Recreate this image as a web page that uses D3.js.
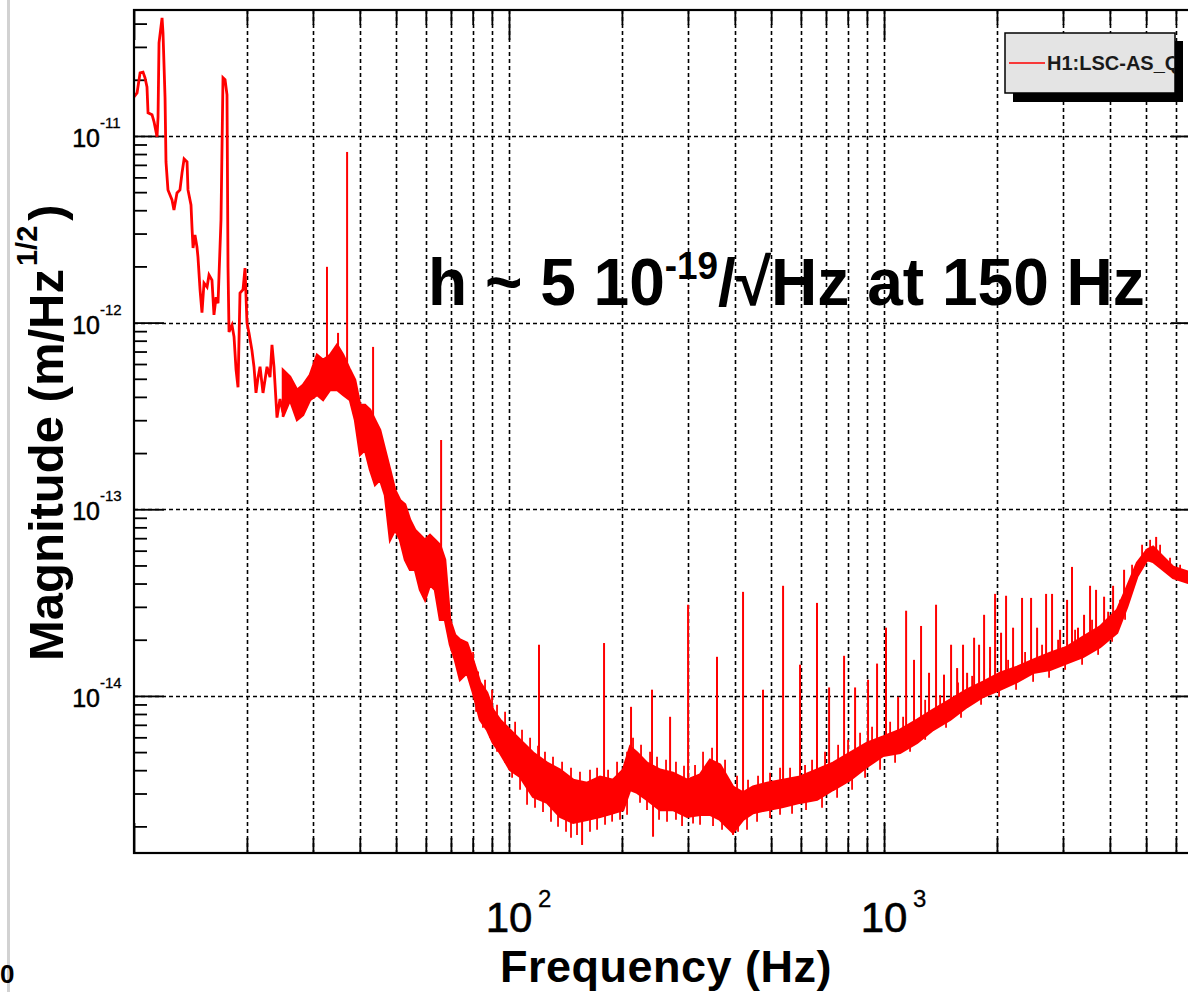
<!DOCTYPE html>
<html>
<head>
<meta charset="utf-8">
<script src="https://cdn.jsdelivr.net/npm/d3@7"></script>
<style>
  html, body { margin: 0; padding: 0; background: #fff; overflow: hidden; }
</style>
</head>
<body>
<svg id="chart" width="1188" height="992"></svg>
<script>
// ---- Low-frequency part of the spectrum, drawn as a single trace (Hz, m/sqrt(Hz)) ----
const lineFreq = [10.0,10.19,10.38,10.57,10.70,10.83,10.90,11.17,11.31,11.52,11.59,11.66,11.88,11.95,12.10,12.17,12.32,12.63,12.78,13.02,13.26,13.43,13.60,13.85,13.93,14.19,14.28,14.37,14.54,14.72,14.81,15.00,15.18,15.37,15.66,15.85,16.14,16.34,16.55,16.75,17.06,17.27,17.49,17.70,17.81,17.92,18.25,18.48,18.71,18.94,19.17,19.53,19.77,20.01,20.26,20.63,20.89,21.15,21.41,21.68,22.08,22.63,23.05,23.33,23.62,24.06,24.51,24.96];
const lineMag = [1.62e-11,1.70e-11,2.18e-11,2.20e-11,2.05e-11,1.83e-11,1.33e-11,1.30e-11,1.19e-11,9.9e-12,1.26e-11,3.15e-11,4.29e-11,3.56e-11,1.60e-11,7.26e-12,5.14e-12,4.54e-12,4.01e-12,4.95e-12,5.14e-12,6.34e-12,7.53e-12,7.26e-12,5.14e-12,4.27e-12,3.21e-12,2.51e-12,2.95e-12,2.54e-12,2.25e-12,1.50e-12,1.13e-12,1.63e-12,1.55e-12,1.80e-12,1.69e-12,1.10e-12,1.37e-12,1.27e-12,3.55e-12,2.05e-11,2.00e-11,1.66e-11,1.99e-12,8.9e-13,9.7e-13,8.4e-13,5.6e-13,4.5e-13,1.44e-12,1.50e-12,1.96e-12,9.96e-13,8.8e-13,7.1e-13,5.8e-13,4.2e-13,5.06e-13,5.8e-13,4.2e-13,5.8e-13,5.1e-13,7.6e-13,5.8e-13,3.1e-13,3.9e-13,3.3e-13];

// ---- Noise floor above 25 Hz: upper and lower envelope of the dense spectrum ----
const bandFreq = [24.96,26.06,27.21,28.23,29.46,30.76,31.92,33.33,34.79,36.10,37.67,38.85,40.07,41.30,42.60,43.93,45.29,46.70,48.16,49.66,51.21,52.81,54.45,56.15,57.91,59.70,61.56,63.48,65.46,67.50,69.61,71.78,74.01,77.27,80.17,83.70,87.37,90.65,94.62,100.6,107.0,115.9,126.3,136.8,148.2,161.4,174.9,189.4,201.4,210.3,219.5,233.3,252.8,273.7,298.4,323.1,343.6,365.3,381.3,395.6,420.7,447.4,487.5,537.9,597.0,662.6,731.1,811.6,900.6,993.8,1103,1225,1351,1500,1665,1837,2039,2263,2497,2772,3076,3394,3767,4181,4446,4727,5028,5216,5546,5898,6468,7000];
const bandHigh = [5.58e-13,5.12e-13,4.36e-13,4.64e-13,5.25e-13,6.71e-13,6.31e-13,6.71e-13,7.60e-13,6.71e-13,5.58e-13,4.93e-13,3.62e-13,3.62e-13,3.41e-13,3.01e-13,2.66e-13,2.08e-13,1.63e-13,1.27e-13,1.12e-13,1.06e-13,8.77e-14,7.76e-14,7.29e-14,6.86e-14,7.29e-14,6.86e-14,6.45e-14,5.36e-14,2.56e-14,2.12e-14,2.00e-14,1.92e-14,1.56e-14,1.18e-14,1.04e-14,8.43e-15,7.45e-15,6.58e-15,5.82e-15,4.96e-15,4.38e-15,4.02e-15,3.55e-15,3.42e-15,3.69e-15,3.55e-15,4.02e-15,5.34e-15,4.96e-15,4.38e-15,4.02e-15,3.87e-15,3.55e-15,3.78e-15,4.55e-15,4.28e-15,3.69e-15,3.26e-15,3.03e-15,3.26e-15,3.42e-15,3.55e-15,3.69e-15,4.02e-15,4.38e-15,4.96e-15,5.61e-15,6.04e-15,6.58e-15,7.45e-15,8.43e-15,9.53e-15,1.08e-14,1.19e-14,1.33e-14,1.43e-14,1.56e-14,1.70e-14,1.83e-14,2.07e-14,2.35e-14,2.89e-14,3.84e-14,5.16e-14,6.06e-14,6.29e-14,5.56e-14,4.91e-14,4.62e-14,4.5e-14];
const bandLow = [3.13e-13,3.85e-13,3.01e-13,3.20e-13,3.85e-13,4.10e-13,3.85e-13,4.36e-13,4.36e-13,4.10e-13,3.85e-13,3.01e-13,1.96e-13,2.08e-13,1.63e-13,1.35e-13,1.44e-13,1.19e-13,6.86e-14,7.76e-14,6.86e-14,5.36e-14,4.74e-14,4.74e-14,3.70e-14,3.27e-14,3.94e-14,3.70e-14,2.56e-14,2.56e-14,1.88e-14,1.56e-14,1.22e-14,1.33e-14,1.04e-14,7.45e-15,6.58e-15,5.61e-15,4.96e-15,4.02e-15,3.69e-15,2.88e-15,2.68e-15,2.25e-15,2.09e-15,2.17e-15,2.25e-15,2.36e-15,2.45e-15,3.14e-15,3.03e-15,2.78e-15,2.45e-15,2.45e-15,2.25e-15,2.31e-15,2.31e-15,2.17e-15,1.99e-15,1.85e-15,2.17e-15,2.36e-15,2.45e-15,2.55e-15,2.68e-15,2.78e-15,3.14e-15,3.55e-15,4.17e-15,4.78e-15,4.96e-15,5.61e-15,6.58e-15,7.45e-15,8.74e-15,9.89e-15,1.08e-14,1.19e-14,1.33e-14,1.38e-14,1.50e-14,1.62e-14,1.83e-14,2.18e-14,3.00e-14,4.35e-14,5.36e-14,5.23e-14,4.74e-14,4.29e-14,4.04e-14,3.9e-14];

// ---- Short noise excursions sticking out of the floor (tips) ----
const hairUpFreq = [80.2,82.7,86.3,90.1,92.9,97.6,103.8,108.3,113.8,119.5,124.7,131.0,138.5,146.3,154.6,164.4,171.7,183.7,194.1,206.4,214.1,224.9,237.7,248.1,262.2,278.7,292.8,313.3,329.1,347.8,376.7,405.5,433.8,461.3,496.6,528.0,561.5,615.6,642.7,696.0,754.2,801.7,863.0,928.9,1038,1124,1287,1411,1575,1717,1917,2142,2377,2638,2911,3231,3586,3957,4259,4584,4875,5122,5445,5788,6157];
const hairUpMag = [1.72e-14,1.35e-14,1.22e-14,1.08e-14,8.96e-15,8.22e-15,7.27e-15,6.58e-15,5.97e-15,5.40e-15,5.02e-15,4.72e-15,4.44e-15,4.12e-15,3.92e-15,4.02e-15,4.12e-15,4.02e-15,4.44e-15,5.02e-15,5.97e-15,5.47e-15,5.02e-15,4.72e-15,4.55e-15,4.44e-15,4.22e-15,4.27e-15,5.02e-15,5.27e-15,4.55e-15,3.73e-15,3.55e-15,3.73e-15,3.87e-15,4.12e-15,4.12e-15,4.27e-15,4.55e-15,5.02e-15,5.47e-15,5.82e-15,6.34e-15,6.83e-15,7.27e-15,7.73e-15,9.53e-15,1.01e-14,1.18e-14,1.28e-14,1.41e-14,1.56e-14,1.72e-14,1.88e-14,2.00e-14,2.26e-14,2.56e-14,2.82e-14,3.27e-14,5.04e-14,6.45e-14,6.86e-14,6.45e-14,5.49e-14,5.04e-14];
const hairDownFreq = [81.7,85.2,89.0,92.9,97.6,101.9,107.0,111.7,117.3,123.2,129.4,135.1,141.9,146.3,151.8,164.4,171.7,180.3,188.3,197.7,206.4,223.5,233.3,251.2,263.8,278.7,289.3,309.5,323.1,349.9,369.8,408.0,431.1,458.5,496.6,528.0,568.4,619.4,683.3,749.5,821.7,889.9,975.7,1070,1173,1287,1463,1604,1814,2026,2249,2497,2754,3039,3373,3722,4055,4392];
const hairDownMag = [8.22e-15,6.75e-15,5.97e-15,5.02e-15,4.38e-15,3.64e-15,3.14e-15,2.61e-15,2.52e-15,2.39e-15,2.12e-15,1.99e-15,1.87e-15,1.74e-15,1.80e-15,1.87e-15,1.92e-15,2.04e-15,2.12e-15,2.17e-15,2.31e-15,2.68e-15,2.45e-15,2.17e-15,2.12e-15,2.17e-15,2.01e-15,2.07e-15,2.04e-15,2.01e-15,1.92e-15,1.87e-15,1.92e-15,2.12e-15,2.22e-15,2.31e-15,2.34e-15,2.45e-15,2.52e-15,2.85e-15,3.14e-15,3.64e-15,4.02e-15,4.38e-15,5.02e-15,5.82e-15,6.75e-15,7.63e-15,8.96e-15,9.89e-15,1.08e-14,1.19e-14,1.25e-14,1.38e-14,1.47e-14,1.66e-14,1.95e-14,2.56e-14];

// ---- Narrow lines (peaks) standing above the noise floor ----
const spikeFreq = [32.7,35.0,37.0,43.4,65.9,120.2,179.2,211.5,240.6,268.8,300.2,358.6,420.7,475.6,537.9,597.0,662.6,713.5,782.3,837.0,906.3,957.9,1012,1090,1145,1202,1255,1318,1376,1445,1509,1566,1624,1665,1738,1792,1848,1917,1977,2051,2115,2208,2333,2466,2559,2704,2805,2947,3076,3171,3290,3414,3542,3675,3861,4080,4365,5315];
const spikeMag = [1.99e-12,8.81e-13,8.21e-12,7.41e-13,2.35e-13,1.88e-14,1.92e-14,8.74e-15,1.08e-14,7.73e-15,3.08e-14,1.62e-14,3.61e-14,1.08e-14,3.89e-14,1.47e-14,3.15e-14,1.11e-14,1.64e-14,1.11e-14,1.22e-14,1.49e-14,2.32e-14,9.89e-15,2.86e-14,1.56e-14,2.37e-14,1.33e-14,3.08e-14,1.30e-14,1.88e-14,1.41e-14,1.88e-14,1.33e-14,2.05e-14,1.88e-14,2.72e-14,1.83e-14,3.52e-14,2.18e-14,3.44e-14,2.32e-14,3.35e-14,3.35e-14,2.32e-14,3.52e-14,3.52e-14,2.26e-14,3.27e-14,4.91e-14,2.32e-14,2.72e-14,3.89e-14,3.70e-14,3.40e-14,3.89e-14,4.74e-14,7.11e-14];

// ---- Deeper downward excursions below the noise floor ----
const dipFreq = [156.6, 242.1, 395.6];
const dipMag = [1.59e-15, 1.76e-15, 1.80e-15];

// ---- Axis labelling ----
const yLabelValues = [1e-11, 1e-12, 1e-13, 1e-14];
const yLabelExponents = ["-11", "-12", "-13", "-14"];
const xLabelValues = [100, 1000];
const xLabelExponents = ["2", "3"];
const xTitle = "Frequency (Hz)";
const yTitleMain = "Magnitude (m/Hz";
const yTitleSup = "1/2";
const legendLabel = "H1:LSC-AS_Q";
const noteMain = "h ~ 5 10";
const noteSup = "-19";
const noteTail = "/\u221AHz at 150 Hz";

// ---------------------------------------------------------------
const FONT = "'Liberation Sans', Arial, Helvetica, sans-serif";
const RED = "#ff0000";
const W = 1188, H = 992;
const svg = d3.select("#chart");

const x = d3.scaleLog().domain([10, 7000]).range([134, 1201]);
const y = d3.scaleLog().domain([1.44e-15, 4.73e-11]).range([853, 10]);
const [xL, xR] = x.range();
const [yB, yT] = y.range();

svg.append("rect").attr("width", W).attr("height", H).attr("fill", "#fff");

// page margin rule on the far left
svg.append("line")
  .attr("x1", 8.5).attr("x2", 8.5).attr("y1", 0).attr("y2", H)
  .attr("stroke", "#d2d2d2").attr("stroke-width", 3);

svg.append("defs").append("clipPath").attr("id", "plotClip")
  .append("rect").attr("x", xL).attr("y", yT).attr("width", xR - xL).attr("height", yB - yT);

// ---- grid ----
const xTicksAll = x.ticks();
const yTicksAll = y.ticks();
const isDecade = v => Math.abs(Math.log10(v) - Math.round(Math.log10(v))) < 1e-6;
const px = v => Math.round(v) + 0.5;

const grid = svg.append("g").attr("stroke", "#000").attr("stroke-width", 1.6)
  .attr("stroke-dasharray", "4,3");
grid.selectAll("line.v").data(xTicksAll.filter(v => v > 10 && v < 7000)).join("line")
  .attr("class", "v")
  .attr("x1", d => px(x(d))).attr("x2", d => px(x(d))).attr("y1", yT).attr("y2", yB);
grid.selectAll("line.h").data(yLabelValues).join("line")
  .attr("class", "h")
  .attr("x1", xL).attr("x2", xR).attr("y1", d => px(y(d))).attr("y2", d => px(y(d)));

// ---- ticks on all four sides, pointing inward ----
function ticks(axisFn, scale, values, size, transform) {
  const g = svg.append("g").attr("transform", transform)
    .call(axisFn(scale).tickValues(values).tickSize(size).tickFormat(""));
  g.select(".domain").remove();
  g.selectAll(".tick line").attr("stroke", "#000").attr("stroke-width", 1.8);
}
const xMinor = xTicksAll.filter(v => !isDecade(v));
const xMajor = xTicksAll.filter(v => isDecade(v));
const yMinor = yTicksAll.filter(v => !isDecade(v));
const yMajor = yTicksAll.filter(v => isDecade(v));

ticks(d3.axisRight, y, yMinor, 13, `translate(${xL},0)`);
ticks(d3.axisRight, y, yMajor, 30, `translate(${xL},0)`);
ticks(d3.axisLeft, y, yMinor, 13, `translate(${xR},0)`);
ticks(d3.axisLeft, y, yMajor, 30, `translate(${xR},0)`);
ticks(d3.axisTop, x, xMinor, 15, `translate(0,${yB})`);
ticks(d3.axisTop, x, xMajor, 30, `translate(0,${yB})`);
ticks(d3.axisBottom, x, xMinor, 15, `translate(0,${yT})`);
ticks(d3.axisBottom, x, xMajor, 30, `translate(0,${yT})`);

// ---- data ----
const plot = svg.append("g").attr("clip-path", "url(#plotClip)");

// log-log interpolation of an envelope at frequency f
function envelopeAt(vals, f) {
  const i = Math.max(0, Math.min(bandFreq.length - 2, d3.bisectRight(bandFreq, f) - 1));
  const t = (Math.log(f) - Math.log(bandFreq[i])) / (Math.log(bandFreq[i + 1]) - Math.log(bandFreq[i]));
  return Math.exp(Math.log(vals[i]) + t * (Math.log(vals[i + 1]) - Math.log(vals[i])));
}

plot.append("path")
  .datum(d3.range(bandFreq.length))
  .attr("d", d3.area()
    .x(i => x(bandFreq[i]))
    .y0(i => y(bandLow[i]))
    .y1(i => y(bandHigh[i])))
  .attr("fill", RED).attr("stroke", RED).attr("stroke-width", 2.5).attr("stroke-linejoin", "miter");

plot.append("path")
  .datum(d3.range(lineFreq.length))
  .attr("d", d3.line().x(i => x(lineFreq[i])).y(i => y(lineMag[i])))
  .attr("fill", "none").attr("stroke", RED).attr("stroke-width", 2.8).attr("stroke-linejoin", "miter");

// vertical strokes from inside the floor out to a tip value
function strokes(cls, freqs, mags, baseEnv, width) {
  plot.selectAll("line." + cls).data(d3.range(freqs.length)).join("line")
    .attr("class", cls)
    .attr("x1", i => x(freqs[i])).attr("x2", i => x(freqs[i]))
    .attr("y1", i => y(envelopeAt(baseEnv, freqs[i])))
    .attr("y2", i => y(mags[i]))
    .attr("stroke", RED).attr("stroke-width", width);
}
strokes("hairUp", hairUpFreq, hairUpMag, bandLow, 1.8);
strokes("hairDown", hairDownFreq, hairDownMag, bandHigh, 1.8);
strokes("spike", spikeFreq, spikeMag, bandLow, 2);
strokes("dip", dipFreq, dipMag, bandHigh, 2);

// ---- frame ----
svg.append("rect").attr("x", xL).attr("y", yT).attr("width", xR - xL).attr("height", yB - yT)
  .attr("fill", "none").attr("stroke", "#000").attr("stroke-width", 2.2);

// ---- tick labels ----
const yl = svg.append("g").attr("font-family", FONT).attr("fill", "#000");
yLabelValues.forEach((v, k) => {
  yl.append("text").attr("x", 100).attr("y", y(v) + 11).attr("text-anchor", "end")
    .attr("font-size", 25).attr("stroke", "#000").attr("stroke-width", 0.5).text("10");
  yl.append("text").attr("x", 100).attr("y", y(v) - 8).attr("font-size", 15)
    .attr("stroke", "#000").attr("stroke-width", 0.3).text(yLabelExponents[k]);
});
const xl = svg.append("g").attr("font-family", FONT).attr("fill", "#000");
xLabelValues.forEach((v, k) => {
  xl.append("text").attr("x", x(v)).attr("y", 932).attr("text-anchor", "middle")
    .attr("font-size", 42).attr("stroke", "#000").attr("stroke-width", 0.6).text("10");
  xl.append("text").attr("x", x(v) + 29).attr("y", 907).attr("font-size", 24)
    .attr("stroke", "#000").attr("stroke-width", 0.3).text(xLabelExponents[k]);
});

// ---- axis titles ----
svg.append("text").attr("x", 500).attr("y", 982)
  .attr("font-family", FONT).attr("font-weight", "bold").attr("font-size", 45)
  .attr("letter-spacing", 0.5).text(xTitle);

const yt = svg.append("text").attr("transform", "translate(63,661) rotate(-90)")
  .attr("font-family", FONT).attr("font-weight", "bold").attr("font-size", 49);
yt.append("tspan").text(yTitleMain);
yt.append("tspan").attr("font-size", 29).attr("dx", 3).attr("dy", -26).text(yTitleSup);
yt.append("tspan").attr("dx", 5).attr("dy", 26).text(")");

// ---- legend ----
const lg = svg.append("g");
lg.append("rect").attr("x", 1013).attr("y", 41).attr("width", 170).attr("height", 61).attr("fill", "#000");
lg.append("rect").attr("x", 1005).attr("y", 33).attr("width", 170).attr("height", 60)
  .attr("fill", "#e4e4e4").attr("stroke", "#000").attr("stroke-width", 1.5);
lg.append("defs").append("clipPath").attr("id", "legendClip")
  .append("rect").attr("x", 1005).attr("y", 33).attr("width", 170).attr("height", 60);
lg.append("line").attr("x1", 1009).attr("x2", 1045).attr("y1", 63).attr("y2", 63)
  .attr("stroke", RED).attr("stroke-width", 1.5);
lg.append("text").attr("clip-path", "url(#legendClip)").attr("x", 1047).attr("y", 70)
  .attr("font-family", FONT).attr("font-weight", "bold").attr("font-size", 20).attr("fill", "#1a1a1a")
  .text(legendLabel);

// ---- sensitivity note ----
const note = svg.append("text")
  .attr("font-family", FONT).attr("font-weight", "bold").attr("font-size", 66).attr("fill", "#000");
note.append("tspan").text(noteMain);
note.append("tspan").attr("font-size", 38).attr("dy", -26).text(noteSup);
note.append("tspan").attr("dy", 26).text(noteTail);
const nw = note.node().getBBox().width;
note.attr("transform", `translate(428,305) scale(${717 / nw},1)`);

// ---- page fragment at bottom-left ----
svg.append("text").attr("x", 0).attr("y", 983).attr("font-family", FONT)
  .attr("font-weight", "bold").attr("font-size", 26).text("0");
</script>
</body>
</html>
